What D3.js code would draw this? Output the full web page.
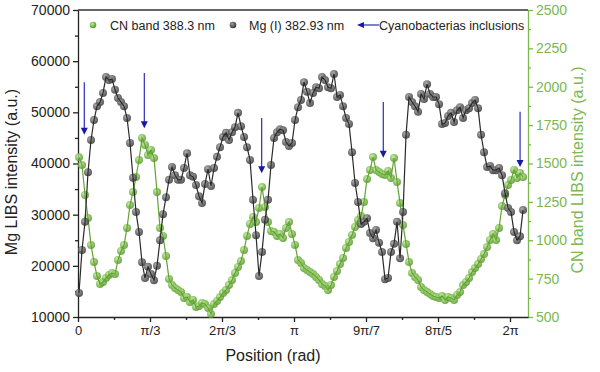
<!DOCTYPE html>
<html>
<head>
<meta charset="utf-8">
<script src="https://cdn.jsdelivr.net/npm/d3@7/dist/d3.min.js"></script>
<style>
  body { margin: 0; background: #fff; }
  svg { font-family: "Liberation Sans", Arial, sans-serif; }
</style>
</head>
<body>
<svg id="chart" width="600" height="372"></svg>
<script>

////////////////////////// DATA //////////////////////////

// scan positions (x axis units, one unit = one labelled tick)
const posStart = 0.014
const posStep = 0.04167

// Mg (I) 382.93 nm, left axis
const mgValues = [
  14700, 23100, 28600, 38300, 44600, 48500, 51200, 52000, 53800, 56900,
  56300, 56500, 54400, 52800, 52000, 51200, 48900, 44000, 37200, 30500,
  26600, 20700, 17600, 19800, 18400, 17200, 20000, 25000, 30100, 33400,
  36800, 39300, 37700, 36800, 36800, 39100, 42000, 37700, 37400, 35800,
  33600, 32300, 36000, 38900, 35600, 39100, 41300, 43200, 45200, 46000,
  44600, 46100, 47100, 49900, 47300, 45200, 43200, 40700, 32900, 26000,
  18000, 22700, 29000, 32900, 39700, 45000, 46100, 46700, 46500, 44200,
  43400, 44000, 48500, 51000, 52400, 55900, 54000, 51800, 53800, 54900,
  54700, 56900, 56300, 54900, 54700, 57500, 53000, 53400, 51200, 48900,
  47700, 42200, 36200, 32500, 28200, 28600, 29300, 26400, 25400, 27000,
  24500, 22700, 17400, 17600, 22700, 24300, 28600, 21500, 30500, 45600,
  53000, 52000, 51200, 50100, 53600, 52600, 55500, 53600, 53000, 53000,
  51600, 47700, 47900, 49300, 49900, 48100, 50400, 51000, 48900, 50400,
  50800, 51800, 52400, 50800, 45600, 42200, 39300, 39500, 38700, 38700,
  39100, 37700, 34200, 31300, 30500, 26600, 25000, 25800, 30900
]

// CN band 388.3 nm, right axis
const cnValues = [
  1540, 1490, 1295, 1145, 969, 858, 767, 715, 728, 754,
  774, 787, 780, 871, 930, 969, 1080, 1230, 1314, 1412,
  1523, 1666, 1621, 1555, 1588, 1536, 1314, 1080, 1028, 897,
  748, 708, 689, 676, 663, 624, 630, 598, 611, 565,
  572, 591, 585, 559, 520, 585, 604, 630, 656, 676,
  708, 741, 787, 826, 865, 937, 1028, 1106, 1152, 1119,
  1210, 1347, 1217, 1119, 1060, 1054, 1028, 1041, 1015, 1080,
  1119, 1041, 969, 871, 852, 819, 806, 793, 780, 761,
  741, 715, 702, 676, 708, 761, 800, 845, 884, 950,
  989, 1034, 1086, 1132, 1158, 1249, 1399, 1458, 1542, 1458,
  1445, 1432, 1425, 1451, 1406, 1536, 1380, 1243, 1099, 976,
  858, 787, 761, 741, 695, 676, 663, 650, 637, 630,
  624, 637, 611, 630, 624, 611, 643, 663, 708, 728,
  754, 793, 819, 845, 878, 910, 956, 1002, 1041, 1002,
  1080, 1223, 1295, 1360, 1393, 1458, 1406, 1438, 1412
]

// cyanobacteria inclusion markers (position, arrow top, arrow tip on Mg scale)
const arrowPos = [0.0875, 0.921, 2.551, 4.24, 6.14]
const arrowTop = [55900, 57700, 48900, 52000, 50100]
const arrowTip = [45600, 46900, 38100, 41100, 39300]

// ticks
const xTickLabels = ['0', 'π/3', '2π/3', 'π', '9π/7', '8π/5', '2π']
const mgTicks = [10000, 20000, 30000, 40000, 50000, 60000, 70000]
const cnTicks = [500, 750, 1000, 1250, 1500, 1750, 2000, 2250, 2500]

////////////////////////// SETUP //////////////////////////

const svg = d3.select('#chart')
const plotLeft = 78, plotRight = 528, plotTop = 10, plotBottom = 317

const green = '#76b443'
const greenText = '#7cb84f'
const blue = '#2a2ab8'

const xScale = d3.scaleLinear().domain([0, 6.25]).range([plotLeft, plotRight])
const yMg = d3.scaleLinear().domain([10000, 70000]).range([plotBottom, plotTop])
const yCn = d3.scaleLinear().domain([500, 2500]).range([plotBottom, plotTop])

const xPos = (d, i) => xScale(posStart + i * posStep)

// shaded ball gradients
const defs = svg.append('defs')
const makeBall = (id, light, mid, dark) => {
  const g = defs.append('radialGradient').attr('id', id)
    .attr('cx', '38%').attr('cy', '35%').attr('r', '65%')
  g.append('stop').attr('offset', '0%').attr('stop-color', light)
  g.append('stop').attr('offset', '55%').attr('stop-color', mid)
  g.append('stop').attr('offset', '100%').attr('stop-color', dark)
}
makeBall('ballGreen', '#c4e6a8', '#7dbd4c', '#5a9633')
makeBall('ballGrey', '#a0a0a0', '#626262', '#3a3a3a')

////////////////////////// AXES //////////////////////////

const styleAxis = (sel, color, size) => {
  sel.selectAll('path, line').attr('stroke', color).attr('stroke-width', 1.3)
  sel.selectAll('text').attr('fill', color).style('font-size', size + 'px')
    .style('font-family', '"Liberation Sans", Arial, sans-serif')
}

// minor ticks
svg.append('g').attr('transform', `translate(${plotLeft},0)`)
  .call(d3.axisLeft(yMg).tickValues(mgTicks.slice(0, -1).map(v => v + 5000)).tickSize(3).tickFormat(''))
  .call(g => g.select('.domain').remove())
  .call(g => styleAxis(g, '#222', 14))

svg.append('g').attr('transform', `translate(${plotRight},0)`)
  .call(d3.axisRight(yCn).tickValues(cnTicks.slice(0, -1).map(v => v + 125)).tickSize(3).tickFormat(''))
  .call(g => g.select('.domain').remove())
  .call(g => styleAxis(g, green, 14))

svg.append('g').attr('transform', `translate(0,${plotBottom})`)
  .call(d3.axisBottom(xScale).tickValues(d3.range(0, 6).map(v => v + 0.5)).tickSize(3).tickFormat(''))
  .call(g => g.select('.domain').remove())
  .call(g => styleAxis(g, '#222', 13))

// major axes
svg.append('g').attr('transform', `translate(${plotLeft},0)`)
  .call(d3.axisLeft(yMg).tickValues(mgTicks).tickSize(5).tickSizeOuter(0).tickPadding(3).tickFormat(d3.format('d')))
  .call(g => styleAxis(g, '#222', 14))

svg.append('g').attr('transform', `translate(${plotRight},0)`)
  .call(d3.axisRight(yCn).tickValues(cnTicks).tickSize(5).tickSizeOuter(0).tickPadding(3).tickFormat(d3.format('d')))
  .call(g => styleAxis(g, greenText, 14))

svg.append('g').attr('transform', `translate(0,${plotBottom})`)
  .call(d3.axisBottom(xScale).tickValues(d3.range(0, 7)).tickSize(5).tickSizeOuter(0).tickPadding(4)
    .tickFormat((d, i) => xTickLabels[i]))
  .call(g => styleAxis(g, '#222', 13))

// top frame
svg.append('line')
  .attr('x1', plotLeft).attr('x2', plotRight)
  .attr('y1', plotTop).attr('y2', plotTop)
  .attr('stroke', '#333').attr('stroke-width', 1.5)

// axis titles
svg.append('text')
  .attr('transform', 'translate(17,172) rotate(-90)')
  .attr('text-anchor', 'middle')
  .style('font-size', '16px').attr('fill', '#222')
  .text('Mg LIBS intensity (a.u.)')

svg.append('text')
  .attr('transform', 'translate(583,170) rotate(-90)')
  .attr('text-anchor', 'middle')
  .style('font-size', '16px').attr('fill', greenText)
  .text('CN band LIBS intensity (a.u.)')

svg.append('text')
  .attr('x', 273).attr('y', 361)
  .attr('text-anchor', 'middle')
  .style('font-size', '16px').attr('fill', '#222')
  .text('Position (rad)')

////////////////////////// SERIES //////////////////////////

const dotR = 4

// CN band
svg.append('g').selectAll('circle')
  .data(cnValues).enter().append('circle')
  .attr('cx', xPos).attr('cy', d => yCn(d)).attr('r', dotR)
  .attr('fill', 'url(#ballGreen)').attr('opacity', 0.85)

svg.append('path').datum(cnValues)
  .attr('d', d3.line().x(xPos).y(d => yCn(d)))
  .attr('fill', 'none').attr('stroke', '#62a232').attr('stroke-width', 1.2)

// Mg
svg.append('g').selectAll('circle')
  .data(mgValues).enter().append('circle')
  .attr('cx', xPos).attr('cy', d => yMg(d)).attr('r', dotR)
  .attr('fill', 'url(#ballGrey)').attr('opacity', 0.85)

svg.append('path').datum(mgValues)
  .attr('d', d3.line().x(xPos).y(d => yMg(d)))
  .attr('fill', 'none').attr('stroke', '#2a2a2a').attr('stroke-width', 1.2)

////////////////////////// ARROWS //////////////////////////

const headLen = 7, headHalf = 3.5

arrowPos.forEach((p, i) => {
  const x = xScale(p)
  const yTop = yMg(arrowTop[i])
  const yTip = yMg(arrowTip[i])
  svg.append('line')
    .attr('x1', x).attr('x2', x).attr('y1', yTop).attr('y2', yTip - headLen + 1)
    .attr('stroke', blue).attr('stroke-width', 1.2)
  svg.append('path')
    .attr('d', `M${x - headHalf},${yTip - headLen}L${x + headHalf},${yTip - headLen}L${x},${yTip}Z`)
    .attr('fill', '#1a1aa0')
})

////////////////////////// LEGEND //////////////////////////

const legendY = 25

svg.append('circle').attr('cx', 93).attr('cy', legendY).attr('r', 3.3).attr('fill', 'url(#ballGreen)')
svg.append('text').attr('x', 110).attr('y', legendY + 4.5)
  .style('font-size', '12.5px').attr('fill', '#222').text('CN band 388.3 nm')

svg.append('circle').attr('cx', 233).attr('cy', legendY).attr('r', 3.3).attr('fill', 'url(#ballGrey)')
svg.append('text').attr('x', 249).attr('y', legendY + 4.5)
  .style('font-size', '12.5px').attr('fill', '#222').text('Mg (I) 382.93 nm')

svg.append('line').attr('x1', 363).attr('x2', 379).attr('y1', legendY).attr('y2', legendY)
  .attr('stroke', blue).attr('stroke-width', 1.2)
svg.append('path').attr('d', `M357,${legendY}L364,${legendY - 3}L364,${legendY + 3}Z`).attr('fill', '#1a1aa0')
svg.append('text').attr('x', 379).attr('y', legendY + 4.5)
  .style('font-size', '12.5px').attr('fill', '#222').text('Cyanobacterias inclusions')

</script>
</body>
</html>
